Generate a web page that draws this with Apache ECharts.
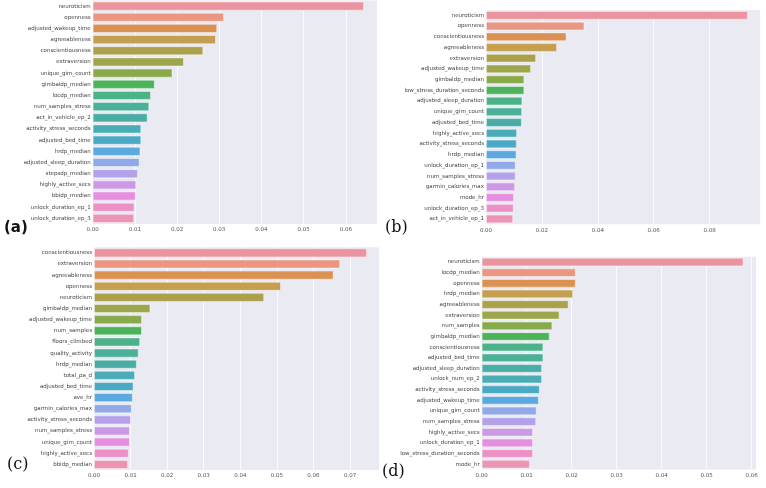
<!DOCTYPE html>
<html>
<head>
<meta charset="utf-8">
<script src="https://cdn.jsdelivr.net/npm/echarts@6/dist/echarts.min.js"></script>
<style>html,body{margin:0;padding:0;background:#fff;}#c{width:766px;height:488px;}</style>
</head>
<body>
<div id="c"></div>
<script>
// Panel (a)
const catsA = ["neuroticism","openness","adjusted_wakeup_time","agreeableness","conscientiousness","extraversion","unique_gim_count","gimbaldp_median","locdp_median","num_samples_stress","act_in_vehicle_ep_2","activity_stress_seconds","adjusted_bed_time","hrdp_median","adjusted_sleep_duration","stepsdp_median","highly_active_secs","bbidp_median","unlock_duration_ep_1","unlock_duration_ep_3"];
const valsA = [0.0643,0.0311,0.0295,0.0292,0.0262,0.0216,0.0189,0.0147,0.0138,0.0134,0.0130,0.0115,0.0115,0.0113,0.0111,0.0107,0.0103,0.0102,0.0099,0.0098];
// Panel (b)
const catsB = ["neuroticism","openness","conscientiousness","agreeableness","extraversion","adjusted_wakeup_time","gimbaldp_median","low_stress_duration_seconds","adjusted_sleep_duration","unique_gim_count","adjusted_bed_time","highly_active_secs","activity_stress_seconds","hrdp_median","unlock_duration_ep_1","num_samples_stress","garmin_calories_max","mode_hr","unlock_duration_ep_3","act_in_vehicle_ep_1"];
const valsB = [0.0937,0.0352,0.0288,0.0254,0.0179,0.0161,0.0137,0.0137,0.0130,0.0129,0.0128,0.0111,0.0110,0.0109,0.0106,0.0106,0.0104,0.0100,0.0099,0.0097];
// Panel (c)
const catsC = ["conscientiousness","extraversion","agreeableness","openness","neuroticism","gimbaldp_median","adjusted_wakeup_time","num_samples","floors_climbed","quality_activity","hrdp_median","total_pa_d","adjusted_bed_time","ave_hr","garmin_calories_max","activity_stress_seconds","num_samples_stress","unique_gim_count","highly_active_secs","bbidp_median"];
const valsC = [0.0746,0.0673,0.0655,0.0511,0.0465,0.0154,0.0131,0.0131,0.0126,0.0122,0.0117,0.0112,0.0108,0.0106,0.0103,0.0101,0.0098,0.0098,0.0095,0.0093];
// Panel (d)
const catsD = ["neuroticism","locdp_median","openness","hrdp_median","agreeableness","extraversion","num_samples","gimbaldp_median","conscientiousness","adjusted_bed_time","adjusted_sleep_duration","unlock_num_ep_2","activity_stress_seconds","adjusted_wakeup_time","unique_gim_count","num_samples_stress","highly_active_secs","unlock_duration_ep_1","low_stress_duration_seconds","mode_hr"];
const valsD = [0.0582,0.0209,0.0209,0.0203,0.0193,0.0173,0.0157,0.0151,0.0137,0.0137,0.0134,0.0134,0.0129,0.0127,0.0122,0.0121,0.0114,0.0114,0.0114,0.0107];

const axisMax = [0.0674, 0.0983, 0.0780, 0.0611];
const axisInterval = [0.01, 0.02, 0.01, 0.01];
const panelLabels = ["(a)","(b)","(c)","(d)"];

const palette = ["#eb949f","#e99783","#db9151","#c59e4f","#aca14b","#9ea64c","#89aa4b","#4db35b","#4cb287","#4bb098","#4aada5","#4aacb6","#4aa9c5","#5aaadf","#92a9e8","#b3a2ea","#cd99e6","#e68fe0","#eb91c6","#eb94b4"];

const grids = [
  {left: 92.7, top: 0.5, right: 389, bottom: 264},
  {left: 486, top: 10, right: 5.3, bottom: 263.7},
  {left: 94, top: 247.3, right: 386.7, bottom: 18},
  {left: 481.7, top: 256.7, right: 9.5, bottom: 18.5}
];
const cats = [catsA, catsB, catsC, catsD];
const vals = [valsA, valsB, valsC, valsD];

const FONT = "DejaVu Sans";
const chart = echarts.init(document.getElementById('c'), null, {renderer: 'canvas'});
const option = {
  animation: false,
  backgroundColor: '#ffffff',
  grid: grids.map(g => Object.assign({backgroundColor: '#eaeaf2', show: true, borderWidth: 0}, g)),
  xAxis: grids.map((g, i) => ({
    type: 'value', gridIndex: i, min: 0, max: axisMax[i], interval: axisInterval[i],
    axisLine: {show: false}, axisTick: {show: false},
    splitLine: {show: true, lineStyle: {color: '#ffffff', width: 0.8}},
    axisLabel: {fontFamily: FONT, fontSize: 5.5, color: '#555', margin: 3,
      formatter: v => (Math.abs(v - axisMax[i]) < 1e-9 ? '' : v.toFixed(2)), showMaxLabel: false}
  })),
  yAxis: grids.map((g, i) => ({
    type: 'category', gridIndex: i, data: cats[i], inverse: true,
    axisLine: {show: false}, axisTick: {show: false}, splitLine: {show: false},
    axisLabel: {fontFamily: FONT, fontSize: 5.5, color: '#444', margin: 2, interval: 0}
  })),
  series: grids.map((g, i) => ({
    type: 'bar', xAxisIndex: i, yAxisIndex: i, barCategoryGap: '20%',
    data: vals[i].map((v, k) => ({value: v, itemStyle: {color: palette[k]}})),
    itemStyle: {borderColor: 'rgba(255,255,255,0.55)', borderWidth: 0.8}
  })),
  graphic: [
    {type: 'text', left: 4, top: 221, style: {text: panelLabels[0], font: 'bold 15px "DejaVu Sans"', fill: '#111'}},
    {type: 'text', left: 385, top: 220, style: {text: panelLabels[1], font: '16px "DejaVu Serif"', fill: '#111'}},
    {type: 'text', left: 7, top: 457, style: {text: panelLabels[2], font: '16px "DejaVu Serif"', fill: '#111'}},
    {type: 'text', left: 382, top: 464, style: {text: panelLabels[3], font: '16px "DejaVu Serif"', fill: '#111'}}
  ]
};
chart.setOption(option);
</script>
</body>
</html>
